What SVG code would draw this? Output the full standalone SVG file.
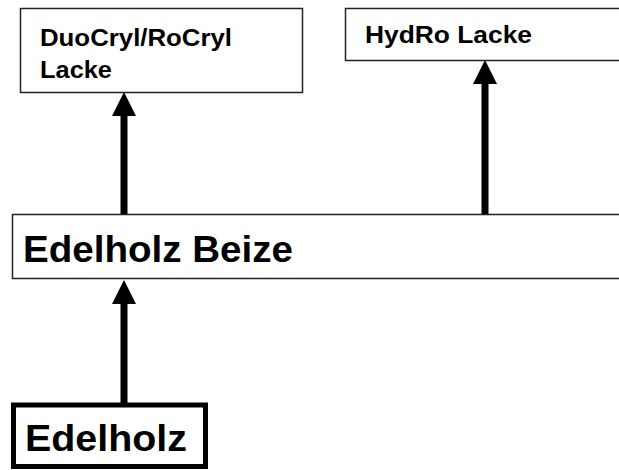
<svg xmlns="http://www.w3.org/2000/svg" width="619" height="470" viewBox="0 0 619 470">
  <style>
    .box { fill: #ffffff; stroke: #222222; stroke-width: 1.5; }
    .thick { fill: #ffffff; stroke: #000000; stroke-width: 5; }
    .sm { font-family: "Liberation Sans", Arial, sans-serif; font-weight: bold; font-size: 23.5px; fill: #000000; }
    .lg { font-family: "Liberation Sans", Arial, sans-serif; font-weight: bold; font-size: 36px; fill: #000000; }
    .conn { stroke: #000000; stroke-width: 7; fill: none; }
  </style>
  <defs>
    <marker id="head" markerUnits="userSpaceOnUse" markerWidth="24" markerHeight="24" refX="1" refY="12" orient="auto">
      <path d="M0,0 L24,12 L0,24 z" fill="#000000"/>
    </marker>
  </defs>
  <rect width="619" height="470" fill="#ffffff"/>

  <g id="connectors">
    <line class="conn" x1="124" y1="403" x2="124" y2="303" marker-end="url(#head)"/>
    <line class="conn" x1="124" y1="214" x2="124" y2="115" marker-end="url(#head)"/>
    <line class="conn" x1="485" y1="214" x2="485" y2="83" marker-end="url(#head)"/>
  </g>

  <g id="duocryl">
    <rect class="box" x="20.5" y="8.5" width="282" height="84"/>
    <text class="sm" x="40" y="46" textLength="192" lengthAdjust="spacingAndGlyphs">DuoCryl/RoCryl</text>
    <text class="sm" x="40" y="78" textLength="72" lengthAdjust="spacingAndGlyphs">Lacke</text>
  </g>

  <g id="hydro">
    <rect class="box" x="345.5" y="8.5" width="290" height="52"/>
    <text class="sm" x="365" y="43" textLength="167" lengthAdjust="spacingAndGlyphs">HydRo Lacke</text>
  </g>

  <g id="beize">
    <rect class="box" x="12.5" y="214.5" width="620" height="64"/>
    <text class="lg" x="23" y="262" textLength="270" lengthAdjust="spacingAndGlyphs">Edelholz Beize</text>
  </g>

  <g id="edelholz">
    <rect class="thick" x="13.5" y="405" width="192" height="61.5"/>
    <text class="lg" x="25" y="451" textLength="162" lengthAdjust="spacingAndGlyphs">Edelholz</text>
  </g>
</svg>
